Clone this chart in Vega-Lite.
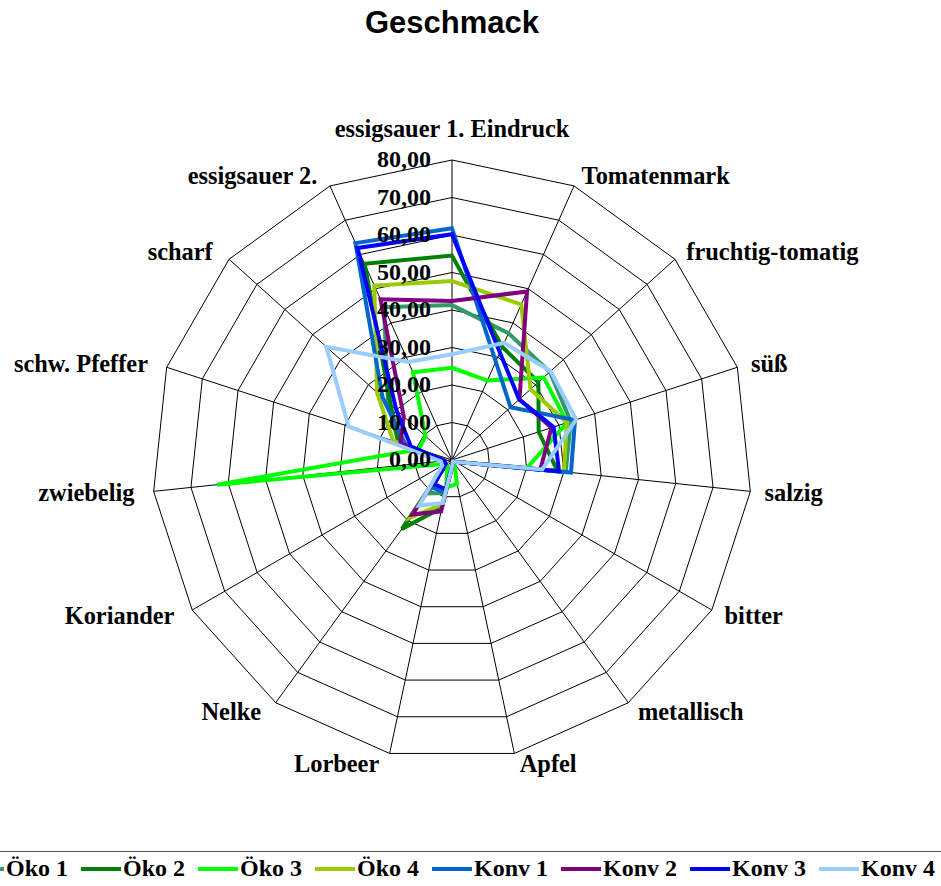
{
  "$schema": "https://vega.github.io/schema/vega-lite/v6.json",
  "width": 600,
  "height": 600,
  "autosize": {"type": "none"},
  "padding": {"left": 152, "top": 160, "right": 189, "bottom": 126},
  "background": "white",
  "title": {"text": "Geschmack", "font": "Liberation Sans", "fontSize": 31, "fontWeight": "bold", "color": "black", "anchor": "middle", "frame": "group", "offset": 77},
  "config": {"view": {"stroke": null}},
  "datasets": {
    "axes": [
      {"idx": 0, "merkmal": "essigsauer 1. Eindruck", "rings": [10, 20, 30, 40, 50, 60, 70, 80]},
      {"idx": 1, "merkmal": "Tomatenmark", "rings": [10, 20, 30, 40, 50, 60, 70, 80]},
      {"idx": 2, "merkmal": "fruchtig-tomatig", "rings": [10, 20, 30, 40, 50, 60, 70, 80]},
      {"idx": 3, "merkmal": "süß", "rings": [10, 20, 30, 40, 50, 60, 70, 80]},
      {"idx": 4, "merkmal": "salzig", "rings": [10, 20, 30, 40, 50, 60, 70, 80]},
      {"idx": 5, "merkmal": "bitter", "rings": [10, 20, 30, 40, 50, 60, 70, 80]},
      {"idx": 6, "merkmal": "metallisch", "rings": [10, 20, 30, 40, 50, 60, 70, 80]},
      {"idx": 7, "merkmal": "Apfel", "rings": [10, 20, 30, 40, 50, 60, 70, 80]},
      {"idx": 8, "merkmal": "Lorbeer", "rings": [10, 20, 30, 40, 50, 60, 70, 80]},
      {"idx": 9, "merkmal": "Nelke", "rings": [10, 20, 30, 40, 50, 60, 70, 80]},
      {"idx": 10, "merkmal": "Koriander", "rings": [10, 20, 30, 40, 50, 60, 70, 80]},
      {"idx": 11, "merkmal": "zwiebelig", "rings": [10, 20, 30, 40, 50, 60, 70, 80]},
      {"idx": 12, "merkmal": "schw. Pfeffer", "rings": [10, 20, 30, 40, 50, 60, 70, 80]},
      {"idx": 13, "merkmal": "scharf", "rings": [10, 20, 30, 40, 50, 60, 70, 80]},
      {"idx": 14, "merkmal": "essigsauer 2.", "rings": [10, 20, 30, 40, 50, 60, 70, 80]}
    ],
    "levels": [
      {"level": 0}, {"level": 10}, {"level": 20}, {"level": 30}, {"level": 40},
      {"level": 50}, {"level": 60}, {"level": 70}, {"level": 80}
    ],
    "scores": [
      {"serie": "Öko 1", "idx": 0, "wert": 41.3}, {"serie": "Öko 1", "idx": 1, "wert": 37}, {"serie": "Öko 1", "idx": 2, "wert": 35.1}, {"serie": "Öko 1", "idx": 3, "wert": 33.3}, {"serie": "Öko 1", "idx": 4, "wert": 30.5}, {"serie": "Öko 1", "idx": 5, "wert": 1}, {"serie": "Öko 1", "idx": 6, "wert": 0.5}, {"serie": "Öko 1", "idx": 7, "wert": 1}, {"serie": "Öko 1", "idx": 8, "wert": 9}, {"serie": "Öko 1", "idx": 9, "wert": 11}, {"serie": "Öko 1", "idx": 10, "wert": 2}, {"serie": "Öko 1", "idx": 11, "wert": 2}, {"serie": "Öko 1", "idx": 12, "wert": 15}, {"serie": "Öko 1", "idx": 13, "wert": 23}, {"serie": "Öko 1", "idx": 14, "wert": 44.6},
      {"serie": "Öko 2", "idx": 0, "wert": 54.5}, {"serie": "Öko 2", "idx": 1, "wert": 33}, {"serie": "Öko 2", "idx": 2, "wert": 31}, {"serie": "Öko 2", "idx": 3, "wert": 24.3}, {"serie": "Öko 2", "idx": 4, "wert": 28.3}, {"serie": "Öko 2", "idx": 5, "wert": 1}, {"serie": "Öko 2", "idx": 6, "wert": 0.5}, {"serie": "Öko 2", "idx": 7, "wert": 1}, {"serie": "Öko 2", "idx": 8, "wert": 13}, {"serie": "Öko 2", "idx": 9, "wert": 22.7}, {"serie": "Öko 2", "idx": 10, "wert": 2}, {"serie": "Öko 2", "idx": 11, "wert": 2}, {"serie": "Öko 2", "idx": 12, "wert": 15}, {"serie": "Öko 2", "idx": 13, "wert": 22}, {"serie": "Öko 2", "idx": 14, "wert": 57.3},
      {"serie": "Öko 3", "idx": 0, "wert": 24.6}, {"serie": "Öko 3", "idx": 1, "wert": 23.2}, {"serie": "Öko 3", "idx": 2, "wert": 32.9}, {"serie": "Öko 3", "idx": 3, "wert": 32.3}, {"serie": "Öko 3", "idx": 4, "wert": 20.1}, {"serie": "Öko 3", "idx": 5, "wert": 1}, {"serie": "Öko 3", "idx": 6, "wert": 1}, {"serie": "Öko 3", "idx": 7, "wert": 6.5}, {"serie": "Öko 3", "idx": 8, "wert": 7.5}, {"serie": "Öko 3", "idx": 9, "wert": 2}, {"serie": "Öko 3", "idx": 10, "wert": 2}, {"serie": "Öko 3", "idx": 11, "wert": 63}, {"serie": "Öko 3", "idx": 12, "wert": 9.3}, {"serie": "Öko 3", "idx": 13, "wert": 9.5}, {"serie": "Öko 3", "idx": 14, "wert": 25.6},
      {"serie": "Öko 4", "idx": 0, "wert": 47.7}, {"serie": "Öko 4", "idx": 1, "wert": 45.4}, {"serie": "Öko 4", "idx": 2, "wert": 28.2}, {"serie": "Öko 4", "idx": 3, "wert": 32.2}, {"serie": "Öko 4", "idx": 4, "wert": 30}, {"serie": "Öko 4", "idx": 5, "wert": 1}, {"serie": "Öko 4", "idx": 6, "wert": 0.5}, {"serie": "Öko 4", "idx": 7, "wert": 1}, {"serie": "Öko 4", "idx": 8, "wert": 12}, {"serie": "Öko 4", "idx": 9, "wert": 19}, {"serie": "Öko 4", "idx": 10, "wert": 2}, {"serie": "Öko 4", "idx": 11, "wert": 2}, {"serie": "Öko 4", "idx": 12, "wert": 16.5}, {"serie": "Öko 4", "idx": 13, "wert": 26.9}, {"serie": "Öko 4", "idx": 14, "wert": 50.9},
      {"serie": "Konv 1", "idx": 0, "wert": 61.8}, {"serie": "Konv 1", "idx": 1, "wert": 28.7}, {"serie": "Konv 1", "idx": 2, "wert": 21}, {"serie": "Konv 1", "idx": 3, "wert": 34.5}, {"serie": "Konv 1", "idx": 4, "wert": 31.9}, {"serie": "Konv 1", "idx": 5, "wert": 1}, {"serie": "Konv 1", "idx": 6, "wert": 0.5}, {"serie": "Konv 1", "idx": 7, "wert": 1}, {"serie": "Konv 1", "idx": 8, "wert": 9}, {"serie": "Konv 1", "idx": 9, "wert": 9}, {"serie": "Konv 1", "idx": 10, "wert": 2}, {"serie": "Konv 1", "idx": 11, "wert": 2}, {"serie": "Konv 1", "idx": 12, "wert": 13}, {"serie": "Konv 1", "idx": 13, "wert": 24.9}, {"serie": "Konv 1", "idx": 14, "wert": 63.3},
      {"serie": "Konv 2", "idx": 0, "wert": 42.4}, {"serie": "Konv 2", "idx": 1, "wert": 49.2}, {"serie": "Konv 2", "idx": 2, "wert": 24.2}, {"serie": "Konv 2", "idx": 3, "wert": 27.9}, {"serie": "Konv 2", "idx": 4, "wert": 23.7}, {"serie": "Konv 2", "idx": 5, "wert": 1}, {"serie": "Konv 2", "idx": 6, "wert": 0.5}, {"serie": "Konv 2", "idx": 7, "wert": 1}, {"serie": "Konv 2", "idx": 8, "wert": 14}, {"serie": "Konv 2", "idx": 9, "wert": 18}, {"serie": "Konv 2", "idx": 10, "wert": 2}, {"serie": "Konv 2", "idx": 11, "wert": 2}, {"serie": "Konv 2", "idx": 12, "wert": 14.5}, {"serie": "Konv 2", "idx": 13, "wert": 17.3}, {"serie": "Konv 2", "idx": 14, "wert": 46.9},
      {"serie": "Konv 3", "idx": 0, "wert": 60.2}, {"serie": "Konv 3", "idx": 1, "wert": 31.4}, {"serie": "Konv 3", "idx": 2, "wert": 24.1}, {"serie": "Konv 3", "idx": 3, "wert": 28.5}, {"serie": "Konv 3", "idx": 4, "wert": 28.7}, {"serie": "Konv 3", "idx": 5, "wert": 1}, {"serie": "Konv 3", "idx": 6, "wert": 0.5}, {"serie": "Konv 3", "idx": 7, "wert": 1}, {"serie": "Konv 3", "idx": 8, "wert": 8}, {"serie": "Konv 3", "idx": 9, "wert": 8}, {"serie": "Konv 3", "idx": 10, "wert": 2}, {"serie": "Konv 3", "idx": 11, "wert": 2}, {"serie": "Konv 3", "idx": 12, "wert": 11.5}, {"serie": "Konv 3", "idx": 13, "wert": 20}, {"serie": "Konv 3", "idx": 14, "wert": 61.9},
      {"serie": "Konv 4", "idx": 0, "wert": 28.2}, {"serie": "Konv 4", "idx": 1, "wert": 34.2}, {"serie": "Konv 4", "idx": 2, "wert": 35.4}, {"serie": "Konv 4", "idx": 3, "wert": 34.8}, {"serie": "Konv 4", "idx": 4, "wert": 24.2}, {"serie": "Konv 4", "idx": 5, "wert": 1}, {"serie": "Konv 4", "idx": 6, "wert": 0.5}, {"serie": "Konv 4", "idx": 7, "wert": 1}, {"serie": "Konv 4", "idx": 8, "wert": 11.7}, {"serie": "Konv 4", "idx": 9, "wert": 15}, {"serie": "Konv 4", "idx": 10, "wert": 3}, {"serie": "Konv 4", "idx": 11, "wert": 3}, {"serie": "Konv 4", "idx": 12, "wert": 29}, {"serie": "Konv 4", "idx": 13, "wert": 45.1}, {"serie": "Konv 4", "idx": 14, "wert": 28.6}
    ]
  },
  "layer": [
    {
      "data": {"name": "axes"},
      "transform": [
        {"flatten": ["rings"], "as": ["ring"]},
        {"calculate": "datum.idx * 2 * PI / 15", "as": "ang"},
        {"calculate": "datum.ring * sin(datum.ang)", "as": "gx"},
        {"calculate": "datum.ring * cos(datum.ang)", "as": "gy"}
      ],
      "mark": {"type": "line", "interpolate": "linear-closed", "stroke": "black", "strokeWidth": 1},
      "encoding": {
        "x": {"field": "gx", "type": "quantitative", "scale": {"domain": [-80, 80], "nice": false, "zero": false}, "axis": null},
        "y": {"field": "gy", "type": "quantitative", "scale": {"domain": [-80, 80], "nice": false, "zero": false}, "axis": null},
        "detail": {"field": "ring", "type": "nominal"},
        "order": {"field": "idx", "type": "quantitative"}
      }
    },
    {
      "data": {"name": "axes"},
      "transform": [
        {"calculate": "datum.idx * 2 * PI / 15", "as": "ang"},
        {"calculate": "0", "as": "z"},
        {"calculate": "80 * sin(datum.ang)", "as": "ex"},
        {"calculate": "80 * cos(datum.ang)", "as": "ey"}
      ],
      "mark": {"type": "rule", "stroke": "black", "strokeWidth": 1},
      "encoding": {
        "x": {"field": "z", "type": "quantitative"},
        "y": {"field": "z", "type": "quantitative"},
        "x2": {"field": "ex"},
        "y2": {"field": "ey"}
      }
    },
    {
      "data": {"name": "scores"},
      "transform": [
        {"calculate": "datum.idx * 2 * PI / 15", "as": "ang"},
        {"calculate": "datum.wert * sin(datum.ang)", "as": "px"},
        {"calculate": "datum.wert * cos(datum.ang)", "as": "py"}
      ],
      "mark": {"type": "line", "interpolate": "linear-closed", "strokeWidth": 4, "strokeJoin": "miter"},
      "encoding": {
        "x": {"field": "px", "type": "quantitative"},
        "y": {"field": "py", "type": "quantitative"},
        "order": {"field": "idx", "type": "quantitative"},
        "color": {
          "field": "serie", "type": "nominal",
          "scale": {"domain": ["Öko 1", "Öko 2", "Öko 3", "Öko 4", "Konv 1", "Konv 2", "Konv 3", "Konv 4"],
                    "range": ["#339966", "#008000", "#00FF00", "#99CC00", "#0066CC", "#800080", "#0000FF", "#99CCFF"]},
          "legend": {
            "orient": "none", "legendX": -186, "legendY": 691, "direction": "horizontal", "columns": 8,
            "title": null, "symbolType": "M-2,0H2", "symbolSize": 400, "symbolStrokeWidth": 4,
            "labelFont": "Liberation Serif", "labelFontWeight": "bold", "labelFontSize": 24, "labelColor": "black",
            "labelOffset": 10, "columnPadding": 4, "padding": 6, "strokeColor": "#555555", "labelLimit": 0
          }
        }
      }
    },
    {
      "data": {"name": "levels"},
      "transform": [
        {"calculate": "replace(format(datum.level, '.2f'), '.', ',')", "as": "lab"},
        {"calculate": "0", "as": "z"}
      ],
      "mark": {"type": "text", "align": "right", "baseline": "middle", "dx": -21, "font": "Liberation Serif", "fontWeight": "bold", "fontSize": 24, "color": "black"},
      "encoding": {
        "x": {"field": "z", "type": "quantitative"},
        "y": {"field": "level", "type": "quantitative"},
        "text": {"field": "lab", "type": "nominal"}
      }
    },
    {
      "data": {"name": "axes"},
      "transform": [
        {"filter": "datum.idx == 0"},
        {"calculate": "datum.idx * 2 * PI / 15", "as": "ang"},
        {"calculate": "83 * sin(datum.ang)", "as": "lx"},
        {"calculate": "83 * cos(datum.ang)", "as": "ly"}
      ],
      "mark": {"type": "text", "align": "center", "baseline": "middle", "dy": -19, "font": "Liberation Serif", "fontWeight": "bold", "fontSize": 24.4, "color": "black"},
      "encoding": {
        "x": {"field": "lx", "type": "quantitative"},
        "y": {"field": "ly", "type": "quantitative"},
        "text": {"field": "merkmal", "type": "nominal"}
      }
    },
    {
      "data": {"name": "axes"},
      "transform": [
        {"filter": "datum.idx >= 1 && datum.idx <= 7"},
        {"calculate": "datum.idx * 2 * PI / 15", "as": "ang"},
        {"calculate": "83 * sin(datum.ang)", "as": "lx"},
        {"calculate": "83 * cos(datum.ang)", "as": "ly"}
      ],
      "mark": {"type": "text", "align": "left", "baseline": "middle", "dx": 3, "dy": 1, "font": "Liberation Serif", "fontWeight": "bold", "fontSize": 24.4, "color": "black"},
      "encoding": {
        "x": {"field": "lx", "type": "quantitative"},
        "y": {"field": "ly", "type": "quantitative"},
        "text": {"field": "merkmal", "type": "nominal"}
      }
    },
    {
      "data": {"name": "axes"},
      "transform": [
        {"filter": "datum.idx >= 8"},
        {"calculate": "datum.idx * 2 * PI / 15", "as": "ang"},
        {"calculate": "83 * sin(datum.ang)", "as": "lx"},
        {"calculate": "83 * cos(datum.ang)", "as": "ly"}
      ],
      "mark": {"type": "text", "align": "right", "baseline": "middle", "dx": -8, "dy": 1, "font": "Liberation Serif", "fontWeight": "bold", "fontSize": 24.4, "color": "black"},
      "encoding": {
        "x": {"field": "lx", "type": "quantitative"},
        "y": {"field": "ly", "type": "quantitative"},
        "text": {"field": "merkmal", "type": "nominal"}
      }
    }
  ]
}
